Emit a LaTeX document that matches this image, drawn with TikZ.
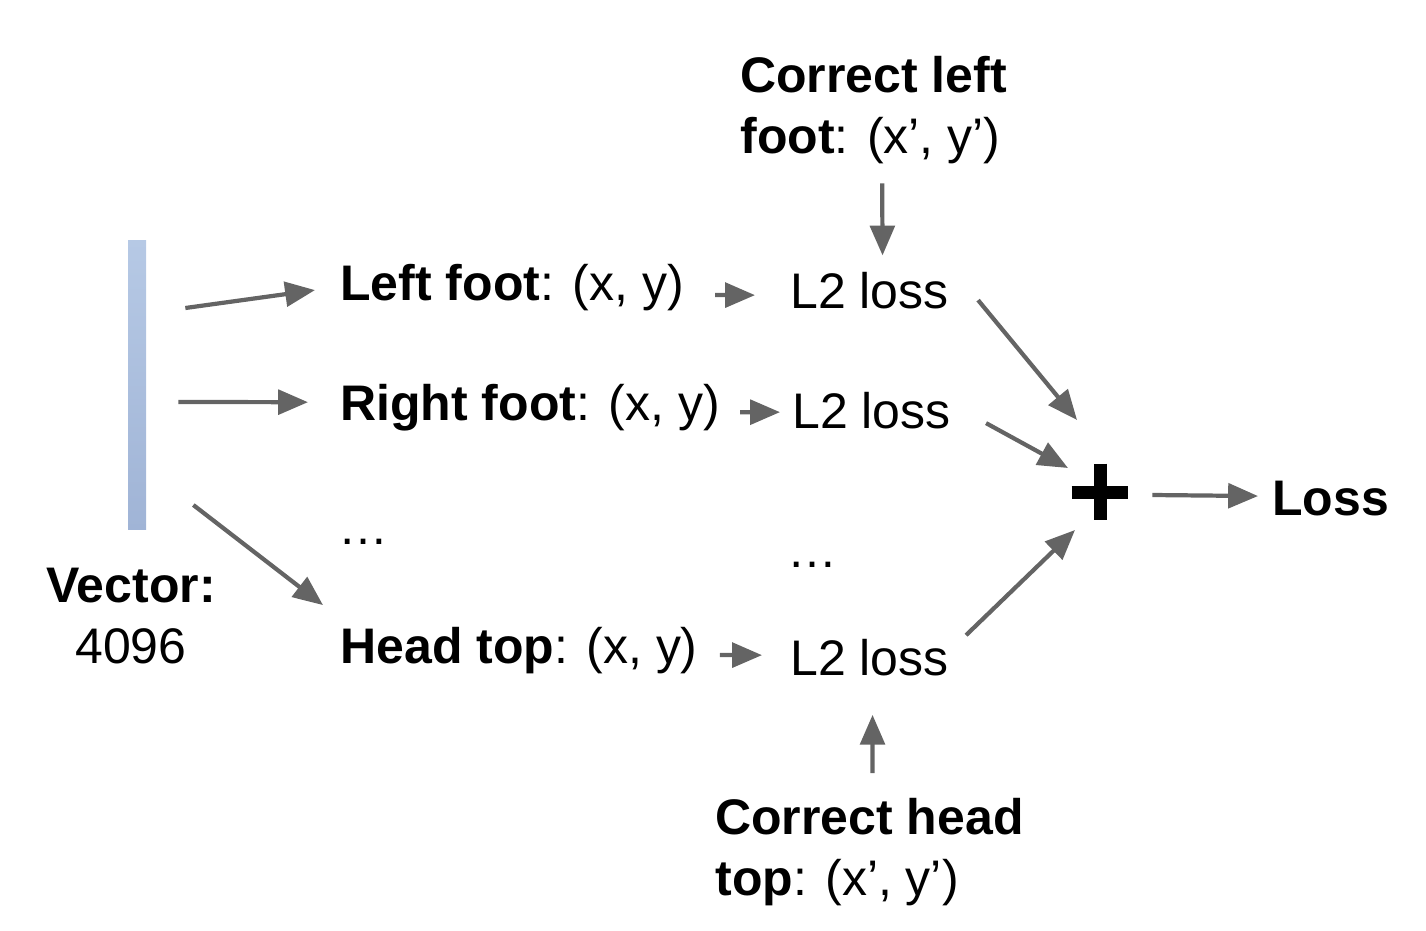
\documentclass[tikz,border=0pt]{standalone}
\usepackage{fontspec}
\setmainfont{Liberation Sans}
\usetikzlibrary{arrows.meta}
\definecolor{arrowgray}{RGB}{100,100,100}
\definecolor{bartop}{RGB}{182,201,229}
\definecolor{barbottom}{RGB}{160,180,214}

\begin{document}
\begin{tikzpicture}
[
    x=0.02cm, y=-0.02cm,
    every node/.style={inner sep=0, font=\fontsize{28.45}{34.5}\selectfont},
    part/.style={anchor=base west},
    arrow/.style={draw=arrowgray, line width=2.4pt, -{Triangle[length=17pt, width=14pt]}},
    vector bar/.style={top color=bartop, bottom color=barbottom, minimum width=0.36cm, minimum height=5.8cm}
]
    \useasboundingbox (0,0) rectangle (1426,930);

    % input vector
    \node [vector bar] (vec) at (137,385) {};
    \node [anchor=north, align=center] (veclabel) at (131,568) {\textbf{Vector:}\\4096};

    % predicted parts
    \node [part] (lf) at (340,300) {\textbf{Left foot}: (x, y)};
    \node [part] (rf) at (340,420) {\textbf{Right foot}: (x, y)};
    \node [part] (dotsa) at (338,544) {…};
    \node [part] (ht) at (340,663) {\textbf{Head top}: (x, y)};

    % losses
    \node [part] (l2a) at (790,308) {L2 loss};
    \node [part] (l2b) at (792,428) {L2 loss};
    \node [part] (dotsb) at (787,567) {…};
    \node [part] (l2c) at (790,675) {L2 loss};

    % ground truth
    \node [anchor=north west, align=left] (cl) at (740,56) {\textbf{Correct left}\\\textbf{foot}: (x’, y’)};
    \node [anchor=north west, align=left] (ch) at (715,798) {\textbf{Correct head}\\\textbf{top}: (x’, y’)};

    % sum
    \node [minimum size=1.12cm] (plus) at (1100,492) {};
    \draw [line width=7.4pt] (plus.west) -- (plus.east) (plus.north) -- (plus.south);
    \node [part] (loss) at (1272,515) {\textbf{Loss}};

    \draw [arrow] ([shift={(39,-77)}]vec.east) -- ([shift={(-25,3)}]lf.west);
    \draw [arrow] ([shift={(32,17)}]vec.east) -- ([shift={(-32,-5)}]rf.west);
    \draw [arrow] ([shift={(47,120)}]vec.east) -- ([shift={(-17,-45)}]ht.west);

    \draw [arrow] ([shift={(31,8)}]lf.east) -- ([shift={(-35,5)}]l2a.west);
    \draw [arrow] ([shift={(20,5)}]rf.east) -- ([shift={(-12,2)}]l2b.west);
    \draw [arrow] ([shift={(22,5)}]ht.east) -- ([shift={(-28,-2)}]l2c.west);

    \draw [arrow] ([shift={(8.5,19.5)}]cl.south) -- ([shift={(13,-16)}]l2a.north);
    \draw [arrow] ([shift={(3,-25)}]ch.north) -- ([shift={(3,39)}]l2c.south);

    \draw [arrow] ([shift={(29,10)}]l2a.east) -- ([shift={(-23,-72)}]plus.center);
    \draw [arrow] ([shift={(35,13)}]l2b.east) -- ([shift={(-32,-24)}]plus.center);
    \draw [arrow] ([shift={(17,-22)}]l2c.east) -- ([shift={(-25,38)}]plus.center);

    \draw [arrow] ([shift={(24,3)}]plus.east) -- ([shift={(-14,-2)}]loss.west);
\end{tikzpicture}
\end{document}
